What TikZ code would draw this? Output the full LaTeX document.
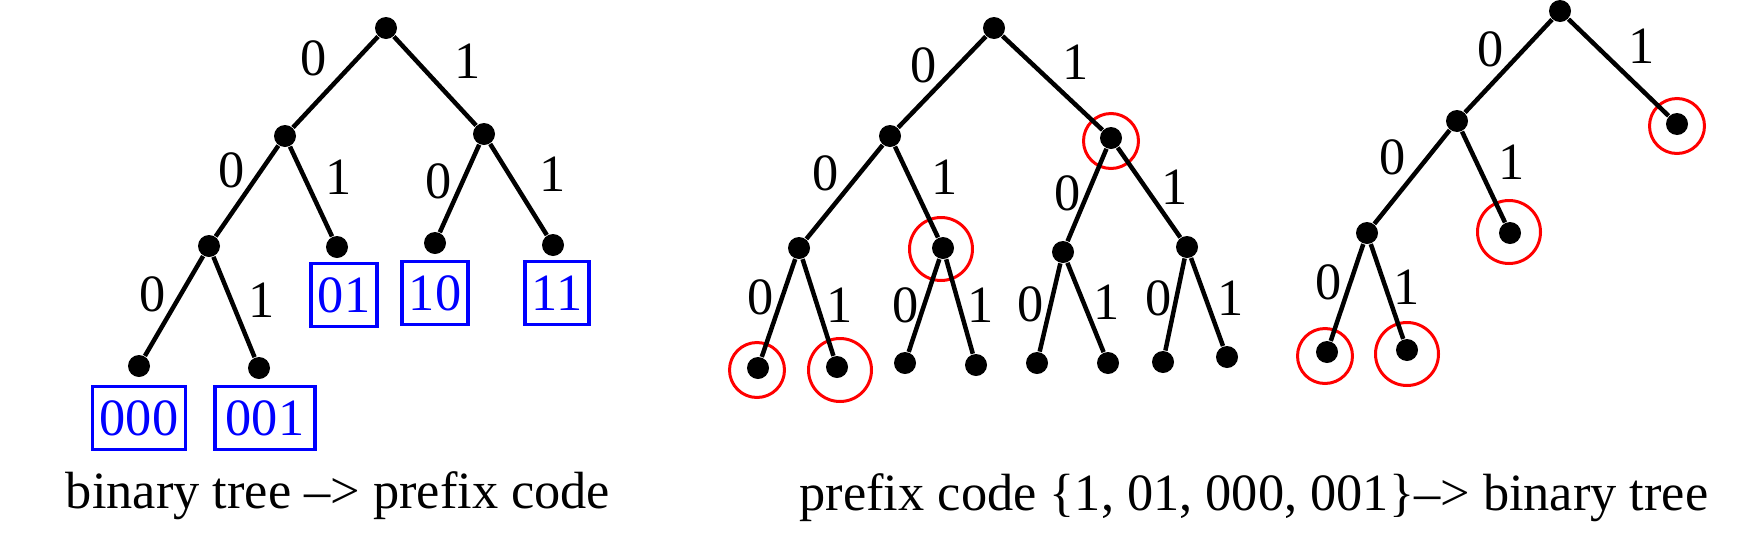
\documentclass[tikz,border=0pt]{standalone}
\usepackage{fontspec}
\setmainfont{Liberation Serif}
\usepackage{tikz}

\begin{document}
\begin{tikzpicture}[x=0.1mm, y=-0.1mm, font=\fontsize{14.9}{17}\selectfont,
    vertex/.style={circle, fill, inner sep=0pt, minimum size=2.2mm},
    bit/.style={inner sep=0pt},
    ring/.style={circle, draw=red, line width=0.3mm, inner sep=0pt, minimum size=5.5mm},
    bigring/.style={ring, minimum size=6.3mm},
    codebox/.style={draw=blue, text=blue, line width=0.35mm, inner xsep=0.7mm, minimum height=6.3mm}]
    \useasboundingbox (0,0) rectangle (1747,536);
    % binary tree -> prefix code
    \node[vertex] (t) at (386, 28) {};
    \node[vertex] (t0) at (285, 136) {};
    \node[vertex] (t1) at (484, 134) {};
    \node[vertex] (t00) at (209, 246) {};
    \node[vertex] (t01) at (337, 247) {};
    \node[vertex] (t10) at (435, 243) {};
    \node[vertex] (t11) at (553, 245) {};
    \node[vertex] (t000) at (139, 366) {};
    \node[vertex] (t001) at (259, 368) {};
    \node[bit] (lt0) at (314, 58) {0};
    \node[bit] (lt1) at (468, 61) {1};
    \node[bit] (lt00) at (232, 170) {0};
    \node[bit] (lt01) at (339, 177) {1};
    \node[bit] (lt10) at (439, 181) {0};
    \node[bit] (lt11) at (553, 174) {1};
    \node[bit] (lt000) at (153, 294) {0};
    \node[bit] (lt001) at (262, 300) {1};
    \node[codebox] (b01) at (344, 295) {01};
    \node[codebox] (b10) at (435, 293) {10};
    \node[codebox] (b11) at (557, 293) {11};
    \node[codebox] (b000) at (139, 418) {000};
    \node[codebox, minimum width=10mm] (b001) at (265, 418) {001};
    \node[anchor=base] (cap1) at (338, 508) {binary tree \textendash> prefix code};
    % prefix code -> binary tree
    \node[vertex] (m) at (994, 28) {};
    \node[vertex] (m0) at (890, 136) {};
    \node[vertex] (m1) at (1111, 138) {};
    \node[vertex] (m00) at (799, 248) {};
    \node[vertex] (m01) at (943, 248) {};
    \node[vertex] (m10) at (1063, 252) {};
    \node[vertex] (m11) at (1187, 247) {};
    \node[vertex] (m000) at (758, 368) {};
    \node[vertex] (m001) at (837, 367) {};
    \node[vertex] (m010) at (905, 363) {};
    \node[vertex] (m011) at (976, 365) {};
    \node[vertex] (m100) at (1037, 363) {};
    \node[vertex] (m101) at (1108, 363) {};
    \node[vertex] (m110) at (1163, 362) {};
    \node[vertex] (m111) at (1227, 357) {};
    \node[bit] (lm0) at (924, 65) {0};
    \node[bit] (lm1) at (1076, 62) {1};
    \node[bit] (lm00) at (826, 173) {0};
    \node[bit] (lm01) at (945, 177) {1};
    \node[bit] (lm10) at (1068, 193) {0};
    \node[bit] (lm11) at (1175, 187) {1};
    \node[bit] (lm000) at (761, 297) {0};
    \node[bit] (lm001) at (840, 305) {1};
    \node[bit] (lm010) at (906, 305) {0};
    \node[bit] (lm011) at (981, 305) {1};
    \node[bit] (lm100) at (1031, 304) {0};
    \node[bit] (lm101) at (1107, 302) {1};
    \node[bit] (lm110) at (1159, 298) {0};
    \node[bit] (lm111) at (1231, 298) {1};
    \node[ring] (cm1) at (1111, 141) {};
    \node[bigring] (cm01) at (941, 249) {};
    \node[ring] (cm000) at (757, 370) {};
    \node[bigring] (cm001) at (840, 370) {};
    \node[vertex] (r) at (1560, 11) {};
    \node[vertex] (r0) at (1457, 121) {};
    \node[vertex] (r1) at (1677, 124) {};
    \node[vertex] (r00) at (1367, 233) {};
    \node[vertex] (r01) at (1510, 233) {};
    \node[vertex] (r000) at (1327, 352) {};
    \node[vertex] (r001) at (1407, 350) {};
    \node[bit] (lr0) at (1491, 49) {0};
    \node[bit] (lr1) at (1642, 46) {1};
    \node[bit] (lr00) at (1393, 157) {0};
    \node[bit] (lr01) at (1512, 162) {1};
    \node[bit] (lr000) at (1329, 282) {0};
    \node[bit] (lr001) at (1407, 287) {1};
    \node[ring] (cr1) at (1677, 126) {};
    \node[bigring] (cr01) at (1509, 232) {};
    \node[ring] (cr000) at (1325, 356) {};
    \node[bigring] (cr001) at (1407, 354) {};
    \node[anchor=base] (cap2) at (1254, 510) {prefix code \{1, 01, 000, 001\}\textendash> binary tree};
    \draw[line width=0.45mm]
    (t) -- (t0) -- (t00) -- (t000)
    (t00) -- (t001)
    (t0) -- (t01)
    (t) -- (t1) -- (t10)
    (t1) -- (t11)
    (m) -- (m0) -- (m00) -- (m000)
    (m00) -- (m001)
    (m0) -- (m01) -- (m010)
    (m01) -- (m011)
    (m) -- (m1) -- (m10) -- (m100)
    (m10) -- (m101)
    (m1) -- (m11) -- (m110)
    (m11) -- (m111)
    (r) -- (r0) -- (r00) -- (r000)
    (r00) -- (r001)
    (r0) -- (r01)
    (r) -- (r1);
\end{tikzpicture}
\end{document}
